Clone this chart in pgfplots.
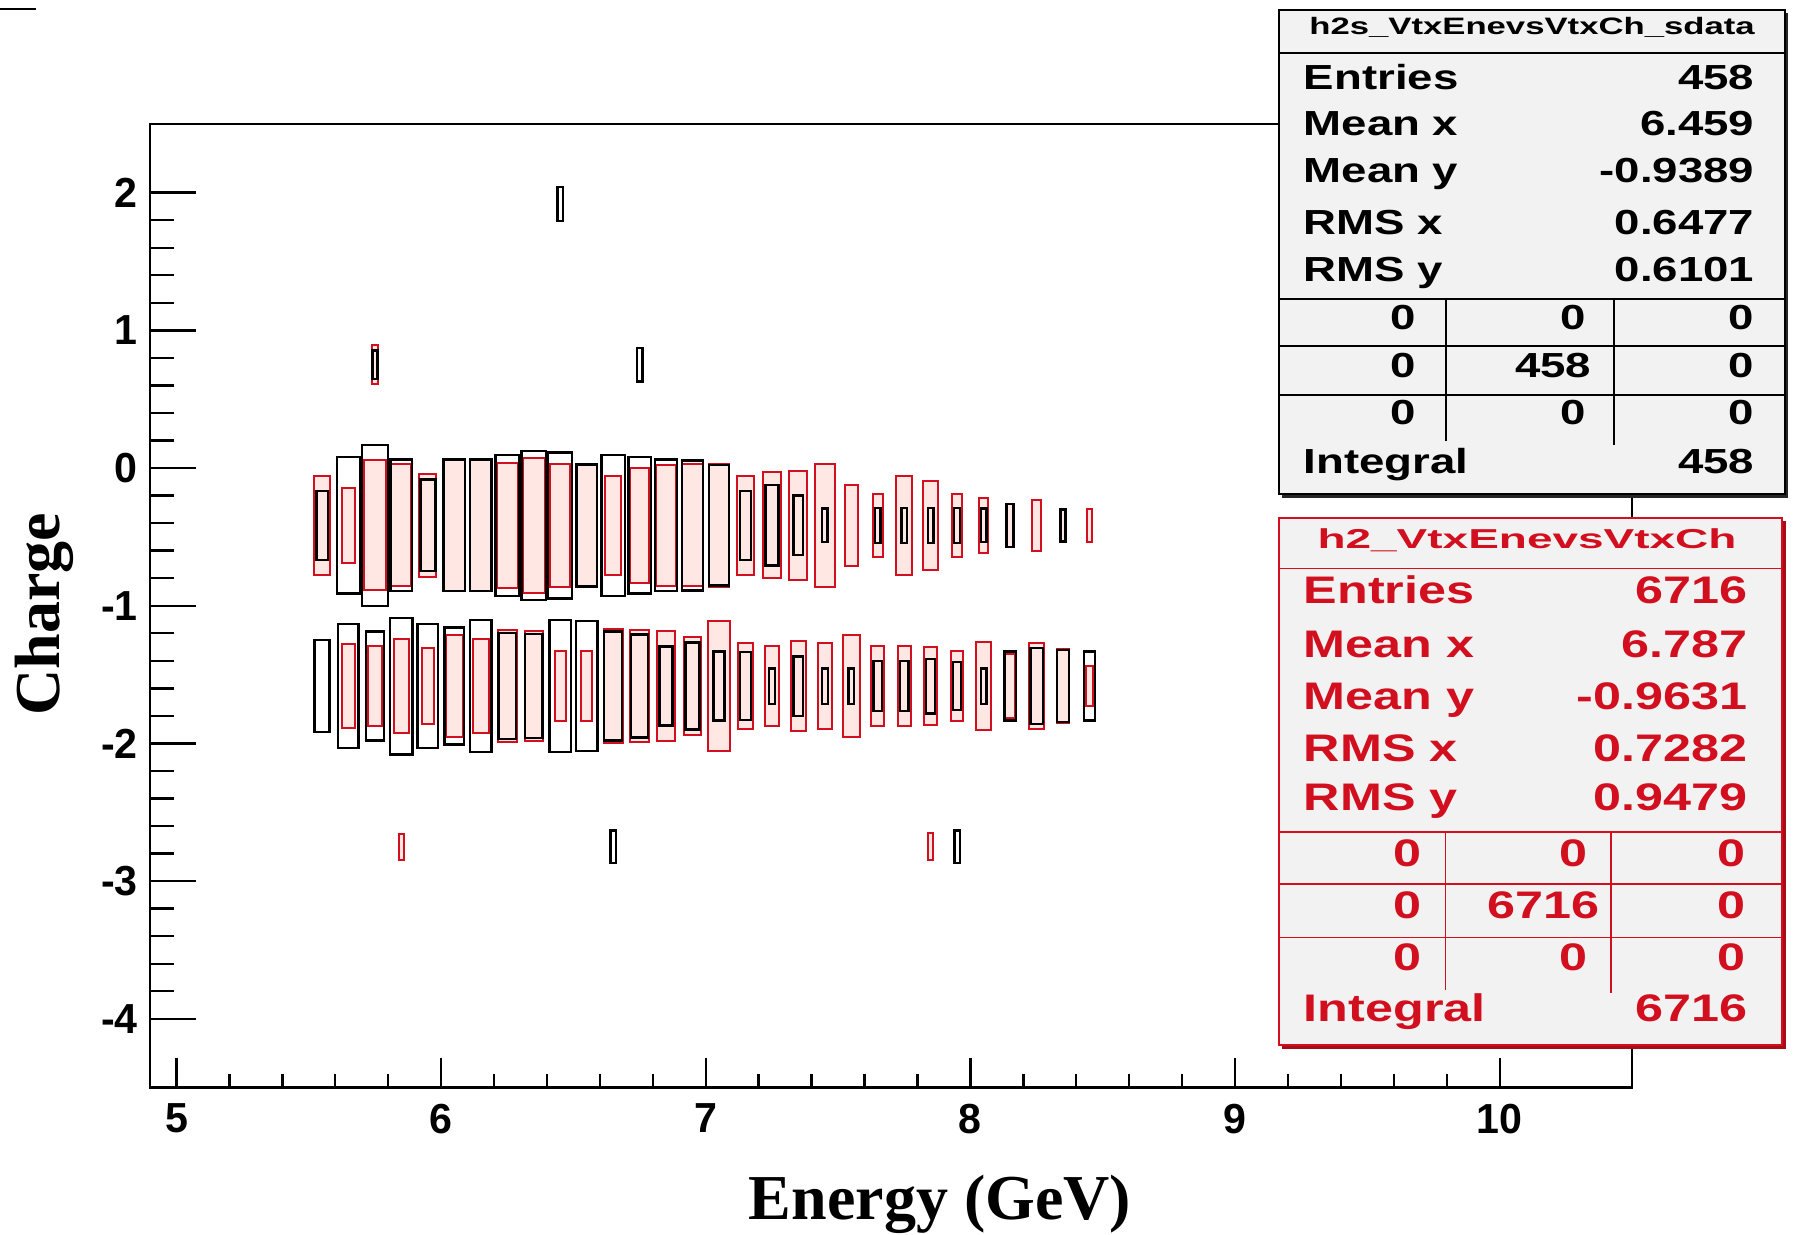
\documentclass[border=0pt]{standalone}
\usepackage{fontspec}
\usepackage{pgfplots}
\usepackage{pgfplotstable}
\pgfplotsset{compat=1.18}
\setmainfont{Liberation Serif}
\newfontfamily\tickfont[FakeStretch=0.98]{Liberation Sans}
\newfontfamily\statfont[FakeStretch=1.31]{Liberation Sans}
\newfontfamily\titleAfont[FakeStretch=1.46]{Liberation Sans}
\newfontfamily\titleBfont[FakeStretch=1.68]{Liberation Sans}
\definecolor{rootred}{RGB}{210,15,30}
\definecolor{boxpink}{RGB}{255,232,228}
\definecolor{statgray}{RGB}{242,242,242}

% half bin width (0.05 GeV) and half bin height (7/12) in pt
\newcommand\boxhw{3.308pt}
\newcommand\boxhh{20.08pt}
\pgfdeclareplotmark{rboxf}{%
  \pgfpathrectanglecorners{\pgfpoint{-\boxr*\boxhw}{-\boxr*\boxhh}}{\pgfpoint{\boxr*\boxhw}{\boxr*\boxhh}}%
  \pgfusepathqfillstroke}
\pgfdeclareplotmark{rbox}{%
  \pgfpathrectanglecorners{\pgfpoint{-\boxr*\boxhw}{-\boxr*\boxhh}}{\pgfpoint{\boxr*\boxhw}{\boxr*\boxhh}}%
  \pgfusepathqstroke}

% h2_VtxEnevsVtxCh (red): bin centre x, bin centre y, relative box size
\pgfplotstableread{
x y r
5.55 -0.4167 0.62
5.65 -0.4167 0.47
5.75 -0.4167 0.81
5.85 -0.4167 0.76
5.95 -0.4167 0.64
6.05 -0.4167 0.82
6.15 -0.4167 0.82
6.25 -0.4167 0.78
6.35 -0.4167 0.84
6.45 -0.4167 0.77
6.55 -0.4167 0.77
6.65 -0.4167 0.62
6.75 -0.4167 0.72
6.85 -0.4167 0.75
6.95 -0.4167 0.76
7.05 -0.4167 0.77
7.15 -0.4167 0.62
7.25 -0.4167 0.66
7.35 -0.4167 0.68
7.45 -0.4167 0.77
7.55 -0.4167 0.50
7.65 -0.4167 0.39
7.75 -0.4167 0.62
7.85 -0.4167 0.55
7.95 -0.4167 0.39
8.05 -0.4167 0.34
8.15 -0.4167 0.27
8.25 -0.4167 0.32
8.35 -0.4167 0.21
8.45 -0.4167 0.21
5.65 -1.5833 0.52
5.75 -1.5833 0.50
5.85 -1.5833 0.58
5.95 -1.5833 0.47
6.05 -1.5833 0.64
6.15 -1.5833 0.59
6.25 -1.5833 0.70
6.35 -1.5833 0.68
6.45 -1.5833 0.43
6.55 -1.5833 0.44
6.65 -1.5833 0.71
6.75 -1.5833 0.70
6.85 -1.5833 0.69
6.95 -1.5833 0.61
7.05 -1.5833 0.81
7.15 -1.5833 0.54
7.25 -1.5833 0.50
7.35 -1.5833 0.56
7.45 -1.5833 0.54
7.55 -1.5833 0.63
7.65 -1.5833 0.50
7.75 -1.5833 0.50
7.85 -1.5833 0.48
7.95 -1.5833 0.43
8.05 -1.5833 0.55
8.15 -1.5833 0.40
8.25 -1.5833 0.54
8.35 -1.5833 0.46
8.45 -1.5833 0.25
5.75 0.75 0.24
5.85 -2.75 0.16
7.85 -2.75 0.17
}\redtab

% h2s_VtxEnevsVtxCh_sdata (black)
\pgfplotstableread{
x y r
5.55 -0.4167 0.43
5.65 -0.4167 0.85
5.75 -0.4167 1.00
5.85 -0.4167 0.82
5.95 -0.4167 0.57
6.05 -0.4167 0.82
6.15 -0.4167 0.82
6.25 -0.4167 0.88
6.35 -0.4167 0.93
6.45 -0.4167 0.91
6.55 -0.4167 0.76
6.65 -0.4167 0.88
6.75 -0.4167 0.85
6.85 -0.4167 0.82
6.95 -0.4167 0.81
7.05 -0.4167 0.75
7.15 -0.4167 0.43
7.25 -0.4167 0.50
7.35 -0.4167 0.37
7.45 -0.4167 0.21
7.65 -0.4167 0.22
7.75 -0.4167 0.22
7.85 -0.4167 0.22
7.95 -0.4167 0.22
8.05 -0.4167 0.21
8.15 -0.4167 0.27
8.35 -0.4167 0.20
5.55 -1.5833 0.57
5.65 -1.5833 0.77
5.75 -1.5833 0.68
5.85 -1.5833 0.85
5.95 -1.5833 0.77
6.05 -1.5833 0.73
6.15 -1.5833 0.82
6.25 -1.5833 0.66
6.35 -1.5833 0.65
6.45 -1.5833 0.82
6.55 -1.5833 0.81
6.65 -1.5833 0.68
6.75 -1.5833 0.64
6.85 -1.5833 0.49
6.95 -1.5833 0.54
7.05 -1.5833 0.43
7.15 -1.5833 0.42
7.25 -1.5833 0.22
7.35 -1.5833 0.37
7.45 -1.5833 0.22
7.55 -1.5833 0.22
7.65 -1.5833 0.31
7.75 -1.5833 0.31
7.85 -1.5833 0.34
7.95 -1.5833 0.30
8.05 -1.5833 0.22
8.15 -1.5833 0.43
8.25 -1.5833 0.47
8.35 -1.5833 0.45
8.45 -1.5833 0.43
6.45 1.9167 0.21
5.75 0.75 0.18
6.75 0.75 0.21
6.65 -2.75 0.20
7.95 -2.75 0.20
}\blacktab

\begin{document}
\begin{tikzpicture}
\useasboundingbox (0,0) rectangle (448.5pt,308.5pt);
\begin{axis}[
    at={(37.5pt,36.6pt)}, anchor=south west,
    scale only axis, width=370.5pt, height=240.95pt,
    xmin=4.9, xmax=10.5, ymin=-4.5, ymax=2.5,
    xtick={5,6,7,8,9,10}, ytick={-4,-3,-2,-1,0,1,2},
    minor tick num=4,
    tick pos=left,
    major tick length=10pt, minor tick length=5pt,
    xtick style={/pgfplots/major tick length=7.5pt, /pgfplots/minor tick length=3.5pt},
    ytick style={/pgfplots/major tick length=11.5pt, /pgfplots/minor tick length=6pt},
    tick style={black, line width=0.6pt},
    axis line style={line width=0.6pt},
    ticklabel style={font=\tickfont\bfseries\fontsize{10.5}{12}\selectfont},
    xticklabel style={yshift=-0.5pt},
    yticklabel style={xshift=0.5pt},
    /pgf/number format/assume math mode=true,
    clip=false,
]
\addplot[scatter, only marks, mark=rboxf,
    scatter/use mapped color={draw=rootred, fill=boxpink},
    mark options={line width=0.5pt},
    visualization depends on={\thisrow{r}\as\boxr}]
    table[x=x, y=y] {\redtab};
\addplot[scatter, only marks, mark=rbox,
    scatter/use mapped color={draw=black},
    mark options={line width=0.6pt},
    visualization depends on={\thisrow{r}\as\boxr}]
    table[x=x, y=y] {\blacktab};
\end{axis}

\begin{scope}[x=0.25pt, y=-0.25pt, yshift=308.5pt]
\draw[line width=0.5pt] (0,9) -- (36,9);
\node[font=\bfseries\fontsize{16}{18}\selectfont, anchor=base] at (940,1219) {Energy (GeV)};
\node[font=\bfseries\fontsize{16}{18}\selectfont, anchor=base, rotate=90] at (59,614) {Charge};

% stats box of h2s_VtxEnevsVtxCh_sdata
\fill[black!85] (1282,13) rectangle (1788,498);
\filldraw[fill=statgray, draw=black, line width=0.4pt] (1279,10) rectangle (1785,494);
\draw[line width=0.4pt] (1279,53) -- (1785,53);
\node[anchor=base, inner sep=0pt, font=\titleAfont\bfseries\fontsize{5.94}{7}\selectfont] at (1532,35) {h2s\_VtxEnevsVtxCh\_sdata};
\begin{scope}[every node/.style={inner sep=0pt}, font=\statfont\bfseries\fontsize{8.7}{10}\selectfont]
\node[anchor=base west] at (1303,89.6) {Entries};
\node[anchor=base east] at (1755,89.6) {458};
\node[anchor=base west] at (1303,135.5) {Mean x};
\node[anchor=base east] at (1755,135.5) {6.459};
\node[anchor=base west] at (1303,183) {Mean y};
\node[anchor=base east] at (1755,183) {-0.9389};
\node[anchor=base west] at (1303,234) {RMS x};
\node[anchor=base east] at (1755,234) {0.6477};
\node[anchor=base west] at (1303,281) {RMS y};
\node[anchor=base east] at (1755,281) {0.6101};
\draw[line width=0.4pt] (1279,299) -- (1785,299) (1279,346) -- (1785,346) (1279,395) -- (1785,395);
\draw[line width=0.4pt] (1446,299) -- (1446,441) (1614,299) -- (1614,445);
\node[anchor=base east] at (1417,329) {0};
\node[anchor=base east] at (1587,329) {0};
\node[anchor=base east] at (1755,329) {0};
\node[anchor=base east] at (1417,377) {0};
\node[anchor=base east] at (1592,377) {458};
\node[anchor=base east] at (1755,377) {0};
\node[anchor=base east] at (1417,424) {0};
\node[anchor=base east] at (1587,424) {0};
\node[anchor=base east] at (1755,424) {0};
\node[anchor=base west] at (1303,473) {Integral};
\node[anchor=base east] at (1755,473) {458};
\end{scope}

% stats box of h2_VtxEnevsVtxCh
\fill[rootred!80!black] (1282,521) rectangle (1786,1049);
\filldraw[fill=statgray, draw=rootred, line width=0.4pt] (1279,518) rectangle (1782,1045);
\begin{scope}[rootred, every node/.style={inner sep=0pt}, font=\statfont\bfseries\fontsize{9.6}{11}\selectfont]
\draw[line width=0.4pt] (1279,568.6) -- (1782,568.6);
\node[anchor=base, font=\titleBfont\bfseries\fontsize{6.84}{8}\selectfont] at (1527,548) {h2\_VtxEnevsVtxCh};
\node[anchor=base west] at (1303,603.6) {Entries};
\node[anchor=base east] at (1748,603.6) {6716};
\node[anchor=base west] at (1303,657) {Mean x};
\node[anchor=base east] at (1748,657) {6.787};
\node[anchor=base west] at (1303,709) {Mean y};
\node[anchor=base east] at (1748,709) {-0.9631};
\node[anchor=base west] at (1303,761) {RMS x};
\node[anchor=base east] at (1748,761) {0.7282};
\node[anchor=base west] at (1303,810.7) {RMS y};
\node[anchor=base east] at (1748,810.7) {0.9479};
\draw[line width=0.4pt] (1279,832) -- (1782,832) (1279,884) -- (1782,884) (1279,937.5) -- (1782,937.5);
\draw[line width=0.4pt] (1445.6,832) -- (1445.6,990) (1611,832) -- (1611,993);
\node[anchor=base east] at (1422,866) {0};
\node[anchor=base east] at (1588,866) {0};
\node[anchor=base east] at (1746,866) {0};
\node[anchor=base east] at (1422,918) {0};
\node[anchor=base east] at (1600,918) {6716};
\node[anchor=base east] at (1746,918) {0};
\node[anchor=base east] at (1422,970) {0};
\node[anchor=base east] at (1588,970) {0};
\node[anchor=base east] at (1746,970) {0};
\node[anchor=base west] at (1303,1021) {Integral};
\node[anchor=base east] at (1748,1021) {6716};
\end{scope}
\end{scope}
\end{tikzpicture}
\end{document}
